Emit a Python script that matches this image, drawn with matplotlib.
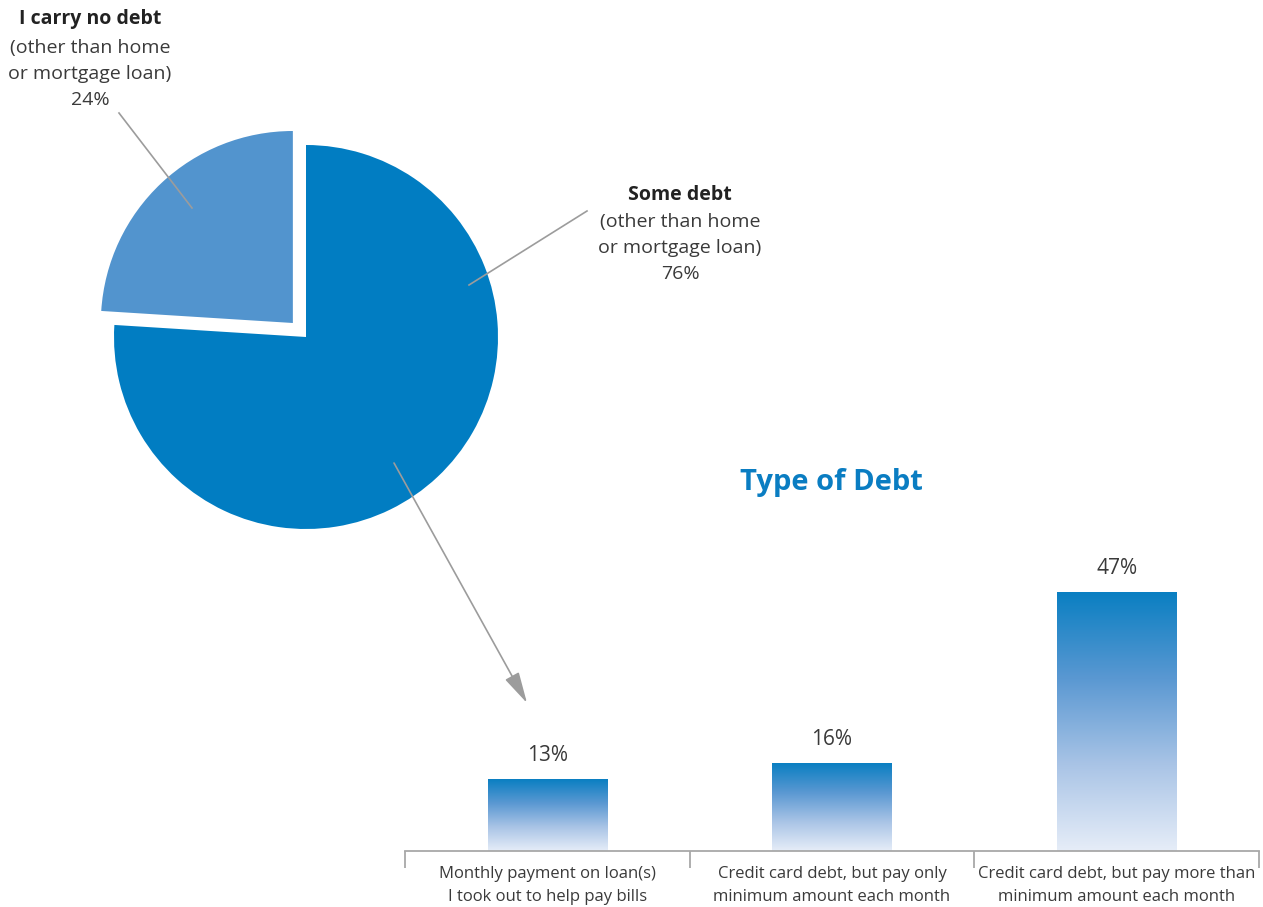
import numpy as np
import matplotlib.pyplot as plt
from matplotlib.colors import LinearSegmentedColormap

plt.rcParams['font.family'] = ['Open Sans', 'DejaVu Sans']

# Carry debt or not
pie_labels = ['I carry no debt', 'Some debt']
pie_values = [24, 76]

# Type of debt among those carrying some
bar_labels = ['Monthly payment on loan(s)\nI took out to help pay bills',
              'Credit card debt, but pay only\nminimum amount each month',
              'Credit card debt, but pay more than\nminimum amount each month']
bar_values = [13, 16, 47]

W, H = 1263, 907
BLUE = '#017dc2'
LIGHT = '#5294ce'
TEXT = '#3a3a3a'
GREY = '#9c9c9c'

fig = plt.figure(figsize=(W / 100, H / 100), dpi=100)


def fx(x):
    return x / W


def fy(y):
    return 1 - y / H


# pie, drawn in its own square axes
cx, cy, r = 306, 337, 192
half = 1.25 * r
ax_pie = fig.add_axes([fx(cx - half), fy(cy + half), 2 * half / W, 2 * half / H])
ax_pie.pie(pie_values, colors=[LIGHT, BLUE], startangle=90, counterclock=True,
           explode=[0.1, 0], radius=1, wedgeprops=dict(linewidth=0))
ax_pie.set_xlim(-1.25, 1.25)
ax_pie.set_ylim(-1.25, 1.25)
ax_pie.set_aspect('equal')
ax_pie.axis('off')

fs = 14
sub = '(other than home\nor mortgage loan)\n%d%%'
fig.text(fx(90), fy(19), pie_labels[0], ha='center', va='center', fontsize=fs,
         fontweight='bold', color='#222222')
fig.text(fx(90), fy(74), sub % pie_values[0],
         ha='center', va='center', fontsize=fs, color=TEXT, linespacing=1.55)
fig.text(fx(680), fy(195), pie_labels[1], ha='center', va='center', fontsize=fs,
         fontweight='bold', color='#222222')
fig.text(fx(680), fy(248), sub % pie_values[1],
         ha='center', va='center', fontsize=fs, color=TEXT, linespacing=1.55)

# leader lines
fig.add_artist(plt.Line2D([fx(119), fx(192)], [fy(113), fy(208)], color=GREY, lw=1.2))
fig.add_artist(plt.Line2D([fx(587), fx(469)], [fy(211), fy(285)], color=GREY, lw=1.2))

# bar chart
base, top = 851, 521
ax = fig.add_axes([fx(405), fy(base), 854 / W, (base - top) / H])
x = np.arange(len(bar_values))
bars = ax.bar(x, bar_values, width=0.42, color='none', edgecolor='none')

cmap = LinearSegmentedColormap.from_list(
    'fade', ['#e6edf8', '#a9c4e6', '#5a98d2', '#0a7fc2'])
grad = np.linspace(0, 1, 256).reshape(-1, 1)
for b in bars:
    x0, w, h = b.get_x(), b.get_width(), b.get_height()
    ax.imshow(grad, extent=[x0, x0 + w, 0, h], origin='lower', aspect='auto',
              cmap=cmap, zorder=2)
    ax.text(x0 + w / 2, h + 4.3, '%d%%' % h, ha='center', va='center',
            fontsize=15, color=TEXT)

ax.set_xlim(-0.5, 2.5)
ax.set_ylim(0, 60)
for s in ['top', 'left', 'right']:
    ax.spines[s].set_visible(False)
ax.spines['bottom'].set_color('#a8a8a8')
ax.spines['bottom'].set_linewidth(1.3)
ax.set_yticks([])
ax.set_xticks(x)
ax.set_xticklabels(bar_labels, fontsize=12, color=TEXT, linespacing=1.55)
ax.tick_params(axis='x', which='major', length=0, pad=11)
ax.set_xticks([-0.5, 0.5, 1.5, 2.5], minor=True)
ax.tick_params(axis='x', which='minor', length=12, width=1.3, color='#a8a8a8')

fig.text(fx(831), fy(483), 'Type of Debt', ha='center', va='center', fontsize=21,
         fontweight='bold', color='#0a7dc2')

# arrow from the "some debt" slice down to the bars
ax.annotate('', xy=(fx(527), fy(703)), xycoords='figure fraction',
            xytext=(fx(394), fy(463)), textcoords='figure fraction',
            arrowprops=dict(arrowstyle='-|>,head_length=1.2,head_width=0.3',
                            color=GREY, lw=1.2, shrinkA=0, shrinkB=0,
                            mutation_scale=16))

fig.savefig('out.png', dpi=100)
